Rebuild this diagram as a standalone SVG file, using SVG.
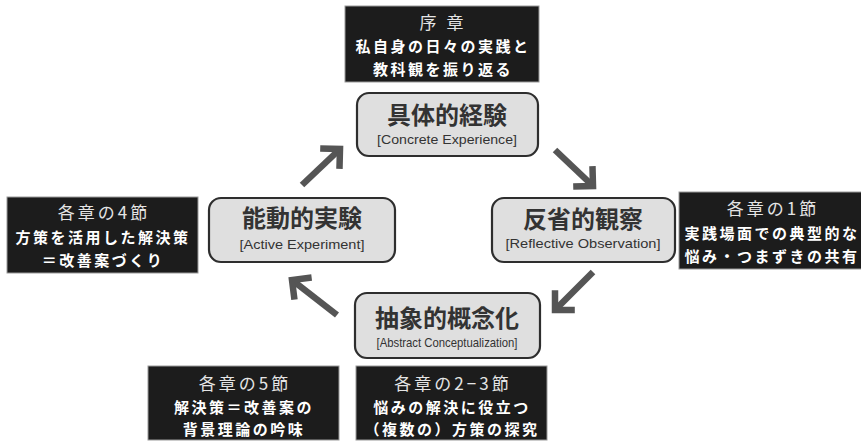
<svg xmlns="http://www.w3.org/2000/svg" width="861" height="441" viewBox="0 0 861 441">
<style>
.bk{fill:#1c1c1c;stroke:#9a9a9a;stroke-width:1}
.nd{fill:#dfdfdf;stroke:#2e2e2e;stroke-width:2.2}
.hd{font-family:"Noto Sans CJK JP","Noto Sans",sans-serif;font-size:17px;fill:#e4e4e4;text-anchor:middle;letter-spacing:3px}
.bd{font-family:"Noto Sans CJK JP","Noto Sans",sans-serif;font-size:15px;font-weight:bold;fill:#ffffff;text-anchor:middle;letter-spacing:2.5px}
.tt{font-family:"Noto Sans CJK JP","Noto Sans",sans-serif;font-size:24px;font-weight:bold;fill:#333;text-anchor:middle}
.st{font-family:"Liberation Sans","Noto Sans",sans-serif;font-size:13.5px;fill:#333;text-anchor:middle}
.ar{fill:none;stroke:#555;stroke-width:6.5;marker-end:url(#chev)}
</style>
<defs>
<marker id="chev" markerUnits="userSpaceOnUse" markerWidth="40" markerHeight="40" refX="20" refY="20" orient="auto" overflow="visible">
<path d="M6,6 L20,20 L6,34" fill="none" stroke="#555" stroke-width="6.5" stroke-linejoin="miter"/>
</marker>
</defs>
<g id="box-top">
<rect class="bk" x="345" y="6" width="194" height="76"/>
<text class="hd" x="443" y="29">序 章</text>
<text class="bd" x="443" y="52">私自身の日々の実践と</text>
<text class="bd" x="443" y="74.5">教科観を振り返る</text>
</g>
<g id="box-left">
<rect class="bk" x="7" y="197" width="191" height="76"/>
<text class="hd" x="104" y="219">各章の4節</text>
<text class="bd" x="103" y="243">方策を活用した解決策</text>
<text class="bd" x="103" y="266">＝改善案づくり</text>
</g>
<g id="box-right">
<rect class="bk" x="679" y="192" width="186" height="77"/>
<text class="hd" x="773" y="215">各章の1節</text>
<text class="bd" x="772" y="239">実践場面での典型的な</text>
<text class="bd" x="772" y="262">悩み・つまずきの共有</text>
</g>
<g id="box-bottom-left">
<rect class="bk" x="148" y="366" width="191" height="74"/>
<text class="hd" x="245" y="390">各章の5節</text>
<text class="bd" x="244" y="412.5">解決策＝改善案の</text>
<text class="bd" x="244" y="434.5">背景理論の吟味</text>
</g>
<g id="box-bottom-right">
<rect class="bk" x="356" y="366" width="191" height="74"/>
<text class="hd" x="453" y="390">各章の2−3節</text>
<text class="bd" x="452" y="412.5">悩みの解決に役立つ</text>
<text class="bd" x="452" y="434.5">（複数の）方策の探究</text>
</g>
<g id="node-ce">
<rect class="nd" x="357" y="93" width="181" height="63" rx="12"/>
<text class="tt" x="447" y="124">具体的経験</text>
<text class="st" x="447" y="143.5" textLength="140" lengthAdjust="spacingAndGlyphs">[Concrete Experience]</text>
</g>
<g id="node-ro">
<rect class="nd" x="492" y="198" width="183" height="64" rx="12"/>
<text class="tt" x="583" y="228">反省的観察</text>
<text class="st" x="583" y="248" textLength="155" lengthAdjust="spacingAndGlyphs">[Reflective Observation]</text>
</g>
<g id="node-ac">
<rect class="nd" x="355" y="293" width="185" height="65" rx="12"/>
<text class="tt" x="447" y="327">抽象的概念化</text>
<text class="st" x="447" y="347" textLength="141" lengthAdjust="spacingAndGlyphs">[Abstract Conceptualization]</text>
</g>
<g id="node-ae">
<rect class="nd" x="209" y="198" width="186" height="64" rx="12"/>
<text class="tt" x="302" y="227">能動的実験</text>
<text class="st" x="302" y="249" textLength="125" lengthAdjust="spacingAndGlyphs">[Active Experiment]</text>
</g>
<g id="connectors">
<path class="ar" d="M302,185 L340,149"/>
<path class="ar" d="M555,150 L593,186"/>
<path class="ar" d="M593,272 L555,310"/>
<path class="ar" d="M337,315 L292,280"/>
</g>
</svg>
